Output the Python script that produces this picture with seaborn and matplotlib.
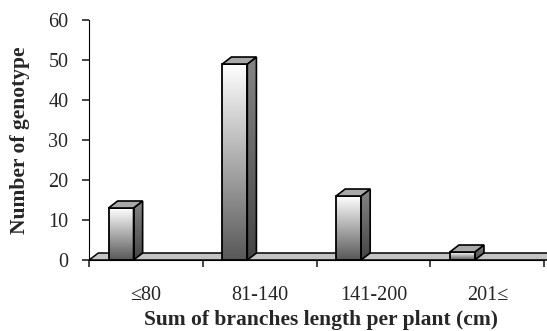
import numpy as np
import pandas as pd
import matplotlib
matplotlib.use('Agg')
import matplotlib.pyplot as plt
import seaborn as sns
from matplotlib.patches import Polygon
from matplotlib.colors import LinearSegmentedColormap

# Data
classes = ['≤80', '81-140', '141-200', '201≤']
genotypes = [13, 49, 16, 2]
df = pd.DataFrame({'Sum of branches length per plant (cm)': classes,
                   'Number of genotype': genotypes})

# Plot
sns.set_style('ticks', rc={'axes.edgecolor': 'black', 'axes.linewidth': 1.2})
plt.rcParams['font.family'] = ['Liberation Serif', 'DejaVu Serif']

fig = plt.figure(figsize=(5.47, 3.31), dpi=100)
ax = fig.add_axes([0.163, 0.2145, 0.832, 0.725])

sns.barplot(data=df, x='Sum of branches length per plant (cm)', y='Number of genotype',
            order=classes, width=0.22, color='white', edgecolor='black',
            linewidth=1.3, ax=ax, zorder=4)

# fake 3d look (excel style)
dx, dy = 0.08, 1.75
front_cmap = LinearSegmentedColormap.from_list('front', ['#ffffff', '#585858'])
side_cmap = LinearSegmentedColormap.from_list('side', ['#858585', '#444444'])
grad = np.linspace(0, 1, 256).reshape(-1, 1)

floor = Polygon([(-0.5, 0), (-0.5 + dx, dy), (3.7 + dx, dy), (3.7, 0)],
                closed=True, fc='#c4c4c4', ec='black', lw=1.1, zorder=1, clip_on=False)
ax.add_patch(floor)

for p in list(ax.patches):
    if p is floor:
        continue
    p.set_x(p.get_x() - 0.22)
    p.set_facecolor('none')
    x0, w, h = p.get_x(), p.get_width(), p.get_height()
    img = ax.imshow(grad, cmap=front_cmap, extent=[x0, x0 + w, 0, h],
                    aspect='auto', zorder=3, interpolation='bilinear')
    img.set_clip_path(p)
    side = Polygon([(x0 + w, 0), (x0 + w + dx, dy), (x0 + w + dx, h + dy), (x0 + w, h)],
                   closed=True, fc='none', ec='black', lw=1.2, zorder=4)
    ax.add_patch(side)
    simg = ax.imshow(grad, cmap=side_cmap, extent=[x0 + w, x0 + w + dx, 0, h + dy],
                     aspect='auto', zorder=2, interpolation='bilinear')
    simg.set_clip_path(side)
    top = Polygon([(x0, h), (x0 + dx, h + dy), (x0 + w + dx, h + dy), (x0 + w, h)],
                  closed=True, fc='#a8a8a8', ec='black', lw=1.2, zorder=4)
    ax.add_patch(top)

ax.set_xlim(-0.5, 3.5)
ax.set_ylim(0, 60)
ax.set_yticks(range(0, 61, 10))
ax.set_xticks(range(len(classes)))
ax.set_xticklabels(classes)
ax.set_xticks([-0.5, 0.5, 1.5, 2.5, 3.5], minor=True)
ax.tick_params(axis='x', which='major', length=0, pad=19, labelsize=14.5)
ax.tick_params(axis='x', which='minor', length=5, width=1.2, direction='out')
ax.tick_params(axis='y', length=5, width=1.2, direction='out', pad=10, labelsize=14.5)
sns.despine(ax=ax)

ax.set_ylabel('Number of genotype', fontsize=15.5, fontweight='bold')
ax.set_xlabel('Sum of branches length per plant (cm)', fontsize=15.5, fontweight='bold')
ax.yaxis.set_label_coords(-0.13, 0.5)
ax.xaxis.set_label_coords(0.51, -0.21)

plt.savefig('out.png', dpi=100)
